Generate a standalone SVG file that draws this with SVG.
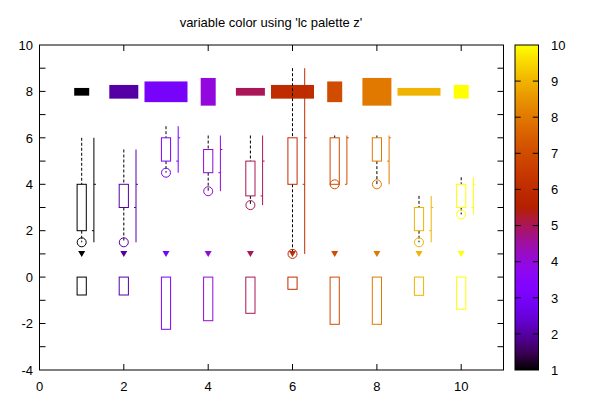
<svg xmlns="http://www.w3.org/2000/svg" width="600" height="400" viewBox="0 0 600 400">
<style>
.t{font-family:"Liberation Sans",Arial,sans-serif;font-size:13px;fill:#000}
.ax{fill:none;stroke:#000;stroke-width:1}
.wh{stroke:#000;stroke-width:1;stroke-dasharray:3 2;fill:none}
.ln{stroke:currentColor;stroke-width:1;fill:none}
.fl{fill:currentColor;stroke:none}
</style>
<defs>
<linearGradient id="pal" x1="0" y1="1" x2="0" y2="0">
<stop offset="0" stop-color="#000000"/>
<stop offset="0.05" stop-color="#39004F"/>
<stop offset="0.1" stop-color="#510096"/>
<stop offset="0.15" stop-color="#6301CE"/>
<stop offset="0.2" stop-color="#7202F3"/>
<stop offset="0.25" stop-color="#8004FF"/>
<stop offset="0.3" stop-color="#8C07F3"/>
<stop offset="0.35" stop-color="#970BCE"/>
<stop offset="0.4" stop-color="#A11096"/>
<stop offset="0.45" stop-color="#AB174F"/>
<stop offset="0.5" stop-color="#B42000"/>
<stop offset="0.55" stop-color="#BD2A00"/>
<stop offset="0.6" stop-color="#C63700"/>
<stop offset="0.65" stop-color="#CE4600"/>
<stop offset="0.7" stop-color="#D55700"/>
<stop offset="0.75" stop-color="#DD6C00"/>
<stop offset="0.8" stop-color="#E48300"/>
<stop offset="0.85" stop-color="#EB9D00"/>
<stop offset="0.9" stop-color="#F2BA00"/>
<stop offset="0.95" stop-color="#F9DB00"/>
<stop offset="1" stop-color="#FFFF00"/>
</linearGradient>
</defs>
<rect width="600" height="400" fill="#fff"/>
<text class="t" x="271" y="26.5" text-anchor="middle">variable color using 'lc palette z'</text>
<g id="axes">
<rect class="ax" x="39.5" y="45" width="464" height="325"/>
<path class="ax" d="M39.5 300.3h6M39.5 323.5h6M39.5 346.7h6M39.5 253.9h6M39.5 230.7h6M39.5 207.5h6M39.5 184.3h6M39.5 161.1h6M39.5 137.8h6M39.5 114.6h6M39.5 91.4h6M39.5 68.2h6M503.5 300.3h-6M503.5 323.5h-6M503.5 346.7h-6M503.5 277.1h-6M503.5 253.9h-6M503.5 230.7h-6M503.5 207.5h-6M503.5 184.3h-6M503.5 161.1h-6M503.5 137.8h-6M503.5 114.6h-6M503.5 91.4h-6M503.5 68.2h-6M39.5 277.1h6"/>
<path class="ax" d="M123.8 370v-6M208.2 370v-6M292.5 370v-6M376.9 370v-6M461.2 370v-6M123.8 45v6M208.2 45v6M292.5 45v6M376.9 45v6M461.2 45v6"/>
<g class="t" text-anchor="end">
<text x="33" y="49.7">10</text>
<text x="33" y="96.1">8</text>
<text x="33" y="142.5">6</text>
<text x="33" y="189">4</text>
<text x="33" y="235.4">2</text>
<text x="33" y="281.8">0</text>
<text x="33" y="328.2">-2</text>
<text x="33" y="374.6">-4</text>
</g>
<g class="t" text-anchor="middle">
<text x="39.5" y="391">0</text>
<text x="123.8" y="391">2</text>
<text x="208.2" y="391">4</text>
<text x="292.5" y="391">6</text>
<text x="376.9" y="391">8</text>
<text x="461.2" y="391">10</text>
</g>
</g>
<g id="colorbar">
<rect x="515" y="45" width="23.5" height="325" fill="url(#pal)" stroke="#000" stroke-width="1"/>
<path class="ax" d="M515 333.9h5.7M515 297.8h5.7M515 261.7h5.7M515 225.6h5.7M515 189.4h5.7M515 153.3h5.7M515 117.2h5.7M515 81.1h5.7M538.5 333.9h-5.7M538.5 297.8h-5.7M538.5 261.7h-5.7M538.5 225.6h-5.7M538.5 189.4h-5.7M538.5 153.3h-5.7M538.5 117.2h-5.7M538.5 81.1h-5.7"/>
<g class="t">
<text x="551" y="374.7">1</text>
<text x="551" y="338.6">2</text>
<text x="551" y="302.5">3</text>
<text x="551" y="266.4">4</text>
<text x="551" y="230.3">5</text>
<text x="551" y="194.1">6</text>
<text x="551" y="158">7</text>
<text x="551" y="121.9">8</text>
<text x="551" y="85.8">9</text>
<text x="551" y="49.7">10</text>
</g>
</g>
<g id="s1" style="color:#000000">
<rect class="fl" x="74.2" y="87.95" width="15" height="7.7"/>
<path class="wh" d="M81.7 137.8V184.3M81.7 230.7V242.3"/>
<rect class="ln" x="77.1" y="184.3" width="9.2" height="46.4"/>
<path class="ln" d="M93.9 137.8V242.3M91.9 230.7h2M93.9 184.3h2"/>
<circle class="ln" cx="81.7" cy="242.3" r="4.5"/>
<path class="fl" d="M78.2 251h7l-3.5 6z"/>
<rect class="ln" x="77.1" y="277.1" width="9.2" height="17.9"/>
</g>
<g id="s2" style="color:#5500A4">
<rect class="fl" x="109.3" y="84.95" width="29" height="13.7"/>
<path class="wh" d="M123.8 149.5V184.3M123.8 207.5V242.3"/>
<rect class="ln" x="119.2" y="184.3" width="9.2" height="23.2"/>
<path class="ln" d="M136 149.5V242.3M134 207.5h2M136 184.3h2"/>
<circle class="ln" cx="123.8" cy="242.3" r="4.5"/>
<path class="fl" d="M120.3 251h7l-3.5 6z"/>
<rect class="ln" x="119.2" y="277.1" width="9.2" height="17.9"/>
</g>
<g id="s3" style="color:#7803FB">
<rect class="fl" x="144.5" y="81.45" width="43" height="20.7"/>
<path class="wh" d="M166 126.2V137.8M166 161.1V172.7"/>
<rect class="ln" x="161.4" y="137.8" width="9.2" height="23.3"/>
<path class="ln" d="M178.2 126.2V172.7M176.2 161.1h2M178.2 137.8h2"/>
<circle class="ln" cx="166" cy="172.7" r="4.5"/>
<path class="fl" d="M162.5 251h7l-3.5 6z"/>
<rect class="ln" x="161.4" y="277.1" width="9.2" height="52.2"/>
</g>
<g id="s4" style="color:#9309DD">
<rect class="fl" x="200.7" y="77.95" width="15" height="27.7"/>
<path class="wh" d="M208.2 135.5V149.5M208.2 172.7V191.2"/>
<rect class="ln" x="203.6" y="149.5" width="9.2" height="23.2"/>
<path class="ln" d="M220.4 135.5V191.2M218.4 172.7h2M220.4 149.5h2"/>
<circle class="ln" cx="208.2" cy="191.2" r="4.5"/>
<path class="fl" d="M204.7 251h7l-3.5 6z"/>
<rect class="ln" x="203.6" y="277.1" width="9.2" height="43.6"/>
</g>
<g id="s5" style="color:#AA1657">
<rect class="fl" x="235.9" y="87.95" width="29" height="7.7"/>
<path class="wh" d="M250.4 135.5V161.1M250.4 195.9V205.1"/>
<rect class="ln" x="245.8" y="161.1" width="9.2" height="34.8"/>
<path class="ln" d="M262.6 135.5V205.1M260.6 195.9h2M262.6 161.1h2"/>
<circle class="ln" cx="250.4" cy="205.1" r="4.5"/>
<path class="fl" d="M246.9 251h7l-3.5 6z"/>
<rect class="ln" x="245.8" y="277.1" width="9.2" height="36.2"/>
</g>
<g id="s6" style="color:#BE2C00">
<rect class="fl" x="271" y="84.95" width="43" height="13.7"/>
<path class="wh" d="M292.5 68.2V137.8M292.5 184.3V253.9"/>
<rect class="ln" x="287.9" y="137.8" width="9.2" height="46.5"/>
<path class="ln" d="M304.7 68.2V253.9M302.7 184.3h2M304.7 137.8h2"/>
<path class="fl" d="M289 251h7l-3.5 6z"/>
<circle class="ln" cx="292.5" cy="253.9" r="4.5"/>
<rect class="ln" x="287.9" y="277.1" width="9.2" height="12.2"/>
</g>
<g id="s7" style="color:#D04C00">
<rect class="fl" x="327.2" y="81.45" width="15" height="20.7"/>
<path class="wh" d="M334.7 135.5V137.8"/>
<rect class="ln" x="330.1" y="137.8" width="9.2" height="46.5"/>
<path class="ln" d="M346.9 135.5V184.3M344.9 184.3h2M346.9 137.8h2"/>
<circle class="ln" cx="334.7" cy="184.3" r="4.5"/>
<path class="fl" d="M331.2 251h7l-3.5 6z"/>
<rect class="ln" x="330.1" y="277.1" width="9.2" height="47.2"/>
</g>
<g id="s8" style="color:#E17800">
<rect class="fl" x="362.4" y="77.95" width="29" height="27.7"/>
<path class="wh" d="M376.9 135.5V137.8M376.9 161.1V184.3"/>
<rect class="ln" x="372.3" y="137.8" width="9.2" height="23.3"/>
<path class="ln" d="M389.1 135.5V184.3M387.1 161.1h2M389.1 137.8h2"/>
<circle class="ln" cx="376.9" cy="184.3" r="4.5"/>
<path class="fl" d="M373.4 251h7l-3.5 6z"/>
<rect class="ln" x="372.3" y="277.1" width="9.2" height="47.2"/>
</g>
<g id="s9" style="color:#F0B300">
<rect class="fl" x="397.5" y="87.95" width="43" height="7.7"/>
<path class="wh" d="M419 195.9V207.5M419 230.7V242.3"/>
<rect class="ln" x="414.4" y="207.5" width="9.2" height="23.2"/>
<path class="ln" d="M431.2 195.9V242.3M429.2 230.7h2M431.2 207.5h2"/>
<circle class="ln" cx="419" cy="242.3" r="4.5"/>
<path class="fl" d="M415.5 251h7l-3.5 6z"/>
<rect class="ln" x="414.4" y="277.1" width="9.2" height="18.2"/>
</g>
<g id="s10" style="color:#FFFF00">
<rect class="fl" x="453.7" y="84.95" width="15" height="13.7"/>
<path class="wh" d="M461.2 177.3V184.3M461.2 207.5V214.4"/>
<rect class="ln" x="456.6" y="184.3" width="9.2" height="23.2"/>
<path class="ln" d="M473.4 177.3V214.4M471.4 207.5h2M473.4 184.3h2"/>
<circle class="ln" cx="461.2" cy="214.4" r="4.5"/>
<path class="fl" d="M457.7 251h7l-3.5 6z"/>
<rect class="ln" x="456.6" y="277.1" width="9.2" height="32.2"/>
</g>
</svg>
